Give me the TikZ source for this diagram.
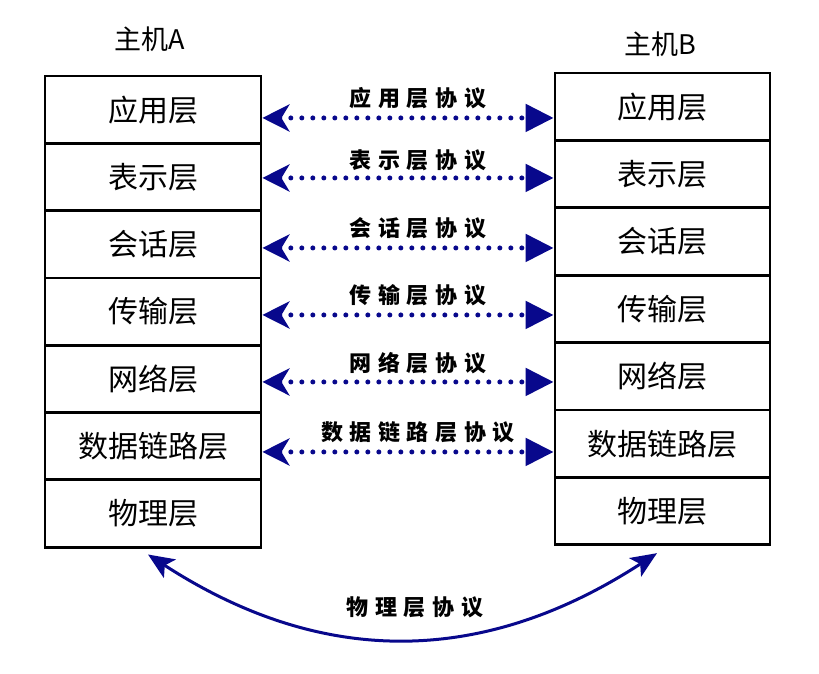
\documentclass[tikz,border=0pt]{standalone}
\usepackage{fontspec}
\usetikzlibrary{arrows.meta,calc}
\newfontfamily\cjk{Noto Sans CJK SC}
\newfontfamily\cjkp[LetterSpace=30]{Noto Sans CJK SC}
\definecolor{nv}{RGB}{8,8,140}
\begin{document}
\begin{tikzpicture}[x=1pt,y=-1pt,
  layer/.style={draw=black,line width=2.8pt,minimum width=216pt,minimum height=67.3pt,inner sep=0pt,
    font=\cjk\fontsize{30pt}{33pt}\selectfont},
  host/.style={font=\cjk\fontsize{27pt}{30pt}\selectfont,inner sep=0pt},
  plabel/.style={font=\cjkp\bfseries\fontsize{22pt}{25pt}\selectfont,inner sep=0pt,text=black},
  proto/.style={nv,line width=5pt,line cap=round,dash pattern=on 0pt off 11pt,
    {Stealth[length=27pt,width=27pt,inset=8pt]}-{Triangle[length=28pt,width=27pt]}},
  phys/.style={nv,line width=3pt,{Stealth[length=26pt,width=22pt,inset=6pt]}-{Stealth[length=26pt,width=22pt,inset=6pt]}}
]
\useasboundingbox[fill=white] (0,0) rectangle (819,674);
\node[host] (ha) at (150,39) {主机A};
\node[host] (hb) at (660,44) {主机B};
\foreach \i/\t in {1/应用层,2/表示层,3/会话层,4/传输层,5/网络层,6/数据链路层,7/物理层}{
  \node[layer] (a\i) at (153,{76+67.3*(\i-0.5)}) {\t};
  \node[layer,minimum width=215pt] (b\i) at (662.5,{73+67.4*(\i-0.5)}) {\t};
}
\foreach \i/\d/\t/\ly in {1/8.3/应用层协议/98,2/1/表示层协议/160,3/3.7/会话层协议/228,4/3.4/传输层协议/295,5/3.1/网络层协议/363,6/5.8/数据链路层协议/432}{
  \draw[proto] (a\i.east) ++(0,\d) coordinate (p\i) -- (p\i -| b\i.west);
  \node[plabel] (l\i) at (418,\ly) {\t};
}
\draw[phys] ([xshift=-5pt,yshift=-6pt]a7.south) .. controls +(174,113) and +(-174,113) .. ([xshift=-5.5pt,yshift=-7pt]b7.south);
\node[plabel] (l7) at (415,607) {物理层协议};
\end{tikzpicture}
\end{document}
